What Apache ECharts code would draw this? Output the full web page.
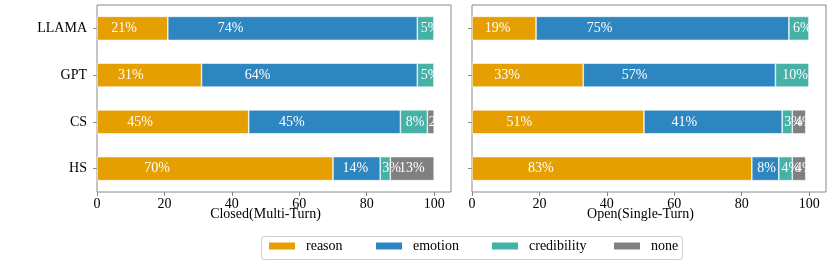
<!DOCTYPE html>
<html>
<head>
<meta charset="utf-8">
<script src="https://cdn.jsdelivr.net/npm/echarts@6/dist/echarts.min.js"></script>
<style>
html,body{margin:0;padding:0;background:#fff;}
#chart{width:831px;height:265px;}
</style>
</head>
<body>
<div id="chart"></div>
<script>
const categories = ['LLAMA', 'GPT', 'CS', 'HS'];
const seriesNames = ['reason', 'emotion', 'credibility', 'none'];
const colors = ['#E69F00', '#2E86C1', '#45B1A7', '#808080'];
// Closed (Multi-Turn)
const closedReason = [21, 31, 45, 70];
const closedEmotion = [74, 64, 45, 14];
const closedCredibility = [5, 5, 8, 3];
const closedNone = [0, 0, 2, 13];
// Open (Single-Turn)
const openReason = [19, 33, 51, 83];
const openEmotion = [75, 57, 41, 8];
const openCredibility = [6, 10, 3, 4];
const openNone = [0, 0, 4, 4];
const xTicks = [0, 20, 40, 60, 80, 100];

const FONT = "'Liberation Serif', 'DejaVu Serif', serif";
const FRAME = '#888';

const chart = echarts.init(document.getElementById('chart'), null, {renderer: 'canvas'});

function xAxis(gi) {
  return {
    type: 'value', gridIndex: gi, min: 0, max: 105, interval: 20,
    axisLine: {show: false},
    axisTick: {show: true, length: 4, lineStyle: {color: FRAME}, customValues: xTicks},
    axisLabel: {color: '#000', fontFamily: FONT, fontSize: 14, margin: 5, customValues: xTicks},
    splitLine: {show: false}
  };
}
function yAxis(gi, showLabels) {
  return {
    type: 'category', gridIndex: gi, data: categories, inverse: true,
    axisLine: {show: false},
    axisTick: {show: true, length: 4, alignWithLabel: true, lineStyle: {color: FRAME}},
    axisLabel: {show: showLabels, color: '#000', fontFamily: FONT, fontSize: 14, margin: 10}
  };
}
function barSeries(name, data, idx, gi) {
  return {
    type: 'bar', name: name, stack: 'g' + gi, xAxisIndex: gi, yAxisIndex: gi,
    data: data, barWidth: 24,
    itemStyle: {color: colors[idx], borderColor: '#fff', borderWidth: 0.6},
    label: {
      show: true, position: ['20%', '50%'], align: 'left', verticalAlign: 'middle',
      color: '#fff', fontFamily: FONT, fontSize: 14,
      formatter: p => (p.value > 0 ? p.value + '%' : '')
    },
    emphasis: {disabled: true},
    animation: false
  };
}

const closedSets = [closedReason, closedEmotion, closedCredibility, closedNone];
const openSets = [openReason, openEmotion, openCredibility, openNone];
const series = [];
seriesNames.forEach((n, i) => series.push(barSeries(n, closedSets[i], i, 0)));
seriesNames.forEach((n, i) => series.push(barSeries(n, openSets[i], i, 1)));

const legendLefts = [267, 374, 490, 612];
const legends = seriesNames.map((n, i) => ({
  data: [n], left: legendLefts[i], top: 239, padding: 0,
  itemWidth: 28, itemHeight: 9, icon: 'rect', selectedMode: false,
  textStyle: {color: '#000', fontFamily: FONT, fontSize: 14, padding: [0, 0, 0, 5]}
}));

const option = {
  backgroundColor: '#fff',
  animation: false,
  grid: [
    {left: 97, top: 5, width: 354, height: 187, show: true, borderColor: FRAME, borderWidth: 1, backgroundColor: 'transparent'},
    {left: 472, top: 5, width: 354, height: 187, show: true, borderColor: FRAME, borderWidth: 1, backgroundColor: 'transparent'}
  ],
  xAxis: [xAxis(0), xAxis(1)],
  yAxis: [yAxis(0, true), yAxis(1, false)],
  legend: legends,
  series: series,
  graphic: [
    {type: 'rect', z: -1, shape: {x: 261.5, y: 236.5, width: 421, height: 23, r: 3},
     style: {fill: '#fff', stroke: '#d0d0d0', lineWidth: 1}},
    {type: 'text', x: 265.5, y: 214,
     style: {text: 'Closed(Multi-Turn)', textAlign: 'center', textVerticalAlign: 'middle',
       fontFamily: FONT, fontSize: 14, fill: '#000'}},
    {type: 'text', x: 640.5, y: 214,
     style: {text: 'Open(Single-Turn)', textAlign: 'center', textVerticalAlign: 'middle',
       fontFamily: FONT, fontSize: 14, fill: '#000'}}
  ]
};
chart.setOption(option);
</script>
</body>
</html>
